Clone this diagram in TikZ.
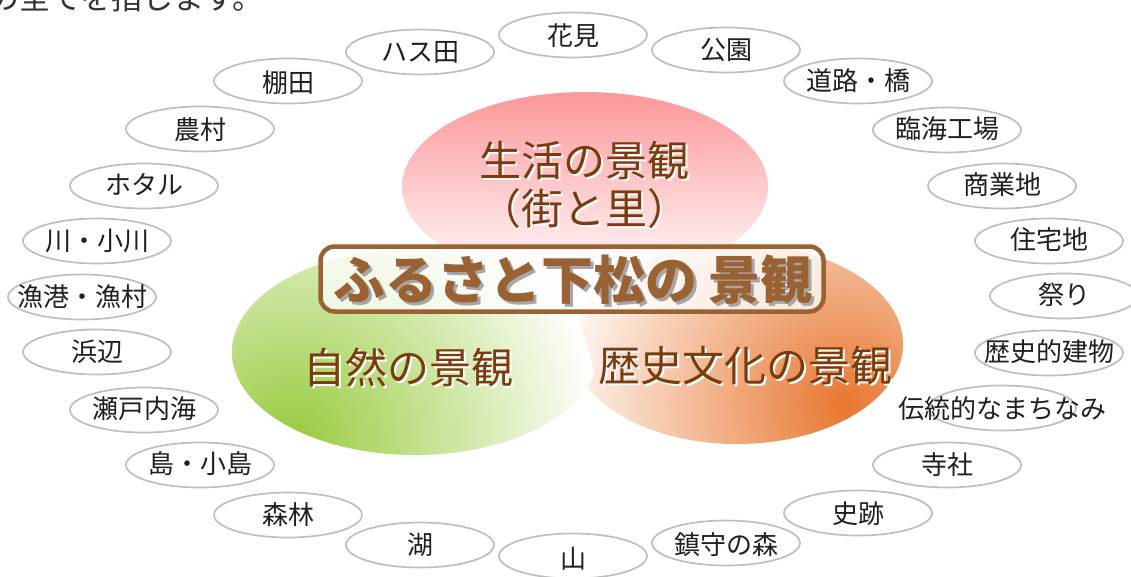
\documentclass[tikz,border=0pt]{standalone}
\usepackage{fontspec}
\setmainfont{Noto Sans CJK JP}
\usetikzlibrary{shapes.geometric}
\definecolor{tagline}{HTML}{BEBEBE}
\definecolor{pinkc}{HTML}{FD979A}
\definecolor{greenc}{HTML}{98CB3E}
\definecolor{orangec}{HTML}{E8762F}
\definecolor{labelbrown}{HTML}{7A3C0E}
\definecolor{titlebrown}{HTML}{9A6233}
\begin{document}
\begin{tikzpicture}[x=1pt,y=-1pt,
  tagshape/.style={draw=tagline, line width=1.7pt, fill=white, ellipse, minimum width=148pt, minimum height=45pt, inner sep=0pt},
  tagtext/.style={font=\fontsize{26}{30}\selectfont, text=black!88, inner sep=0pt, text height=0.88em, text depth=0.12em, yshift=-5pt},
  biglabel/.style={font=\fontsize{42}{50}\selectfont, text=labelbrown, inner sep=0pt, align=center},
  bigshadow/.style={font=\fontsize{42}{50}\selectfont, text=white, inner sep=0pt, align=center},
  titlebox/.style={draw=titlebrown, line width=4.5pt, rounded corners=14pt, fill=white, fill opacity=0.75, minimum width=503pt, minimum height=65pt, inner sep=0pt},
  titletext/.style={font=\bfseries\fontsize{52}{56}\selectfont, inner sep=0pt}]
\useasboundingbox (0,0) rectangle (1131,576);
\fill[white] (0,0) rectangle (1131,576);

% intro text (cut by the top edge)
\node[anchor=base west, font=\fontsize{31}{36}\selectfont, text=black!80, inner sep=0pt] (intro) at (-12,9) {の全てを指します。};

% three large ellipses
\begin{scope}
  \clip (585,187) ellipse [x radius=183, y radius=95];
  \shade[top color=pinkc, bottom color=white] (400,92) rectangle (770,285);
\end{scope}
\begin{scope}
  \clip (737,344) ellipse [x radius=166, y radius=100];
  \shade[inner color=orangec, outer color=white] (845,405) circle (300);
\end{scope}
\begin{scope}
  \clip (415,352) ellipse [x radius=183, y radius=103];
  \shade[inner color=greenc, outer color=white] (292,440) circle (310);
\end{scope}

% big labels
\node[bigshadow] (lifeS) at (586,187) {生活の景観\\[-2pt]（街と里）};
\node[biglabel] (life) at (584,185) {生活の景観\\[-2pt]（街と里）};
\node[bigshadow] (natureS) at (410,369) {自然の景観};
\node[biglabel] (nature) at (408,367) {自然の景観};
\node[bigshadow] (historyS) at (747,368) {歴史文化の景観};
\node[biglabel] (history) at (745,366) {歴史文化の景観};

% title
\node[titlebox] (tbox) at (572,279) {};
\node[titletext, text=black!35] (titleS) at (576,283) {ふるさと下松の\hspace{12pt}景観};
\node[titletext, text=titlebrown] (title) at (573,280) {ふるさと下松の\hspace{12pt}景観};

% small ellipses
\node[tagshape] (e1) at (420,52) {};  \node[tagtext] (t1) at ([yshift=-1pt]e1) {ハス田};
\node[tagshape] (e2) at (573,35) {};  \node[tagtext] (t2) at ([yshift=-2pt]e2) {花見};
\node[tagshape] (e3) at (726,50) {};  \node[tagtext] (t3) at ([yshift=-1pt]e3) {公園};
\node[tagshape] (e4) at (858,81) {};  \node[tagtext] (t4) at ([yshift=-1pt]e4) {道路・橋};
\node[tagshape] (e5) at (947,130) {}; \node[tagtext] (t5) at ([yshift=0pt]e5) {臨海工場};
\node[tagshape] (e6) at (1002,186) {}; \node[tagtext] (t6) at ([yshift=0pt]e6) {商業地};
\node[tagshape] (e7) at (1049,241) {}; \node[tagtext] (t7) at ([yshift=0pt]e7) {住宅地};
\node[tagshape] (e8) at (1064,296) {}; \node[tagtext] (t8) at ([yshift=0pt]e8) {祭り};
\node[tagshape] (e9) at (1049,353) {}; \node[tagtext] (t9) at ([yshift=0pt]e9) {歴史的建物};
\node[tagshape] (e10) at (1002,408) {}; \node[tagtext] (t10) at ([yshift=-2pt]e10) {伝統的なまちなみ};
\node[tagshape] (e11) at (947,465) {}; \node[tagtext] (t11) at ([yshift=-1pt]e11) {寺社};
\node[tagshape] (e12) at (858,513) {}; \node[tagtext] (t12) at ([yshift=-2pt]e12) {史跡};
\node[tagshape] (e13) at (726,543) {}; \node[tagtext] (t13) at ([yshift=-3pt]e13) {鎮守の森};
\node[tagshape] (e14) at (573,556) {}; \node[tagtext] (t14) at ([yshift=-4pt]e14) {山};
\node[tagshape] (e15) at (420,545) {}; \node[tagtext] (t15) at ([yshift=-1pt]e15) {湖};
\node[tagshape] (e16) at (288,515) {}; \node[tagtext] (t16) at ([yshift=-1pt]e16) {森林};
\node[tagshape] (e17) at (200,465) {}; \node[tagtext] (t17) at ([yshift=0pt]e17) {島・小島};
\node[tagshape] (e18) at (144,410) {}; \node[tagtext] (t18) at ([yshift=0pt]e18) {瀬戸内海};
\node[tagshape] (e19) at (97,352) {};  \node[tagtext] (t19) at ([yshift=-1pt]e19) {浜辺};
\node[tagshape] (e20) at (82,297) {};  \node[tagtext] (t20) at ([yshift=-1pt]e20) {漁港・漁村};
\node[tagshape] (e21) at (97,241) {};  \node[tagtext] (t21) at ([yshift=-1pt]e21) {川・小川};
\node[tagshape] (e22) at (144,186) {}; \node[tagtext] (t22) at ([yshift=0pt]e22) {ホタル};
\node[tagshape] (e23) at (200,129) {}; \node[tagtext] (t23) at ([yshift=-2pt]e23) {農村};
\node[tagshape] (e24) at (288,81) {};  \node[tagtext] (t24) at ([yshift=-3pt]e24) {棚田};
\end{tikzpicture}
\end{document}
